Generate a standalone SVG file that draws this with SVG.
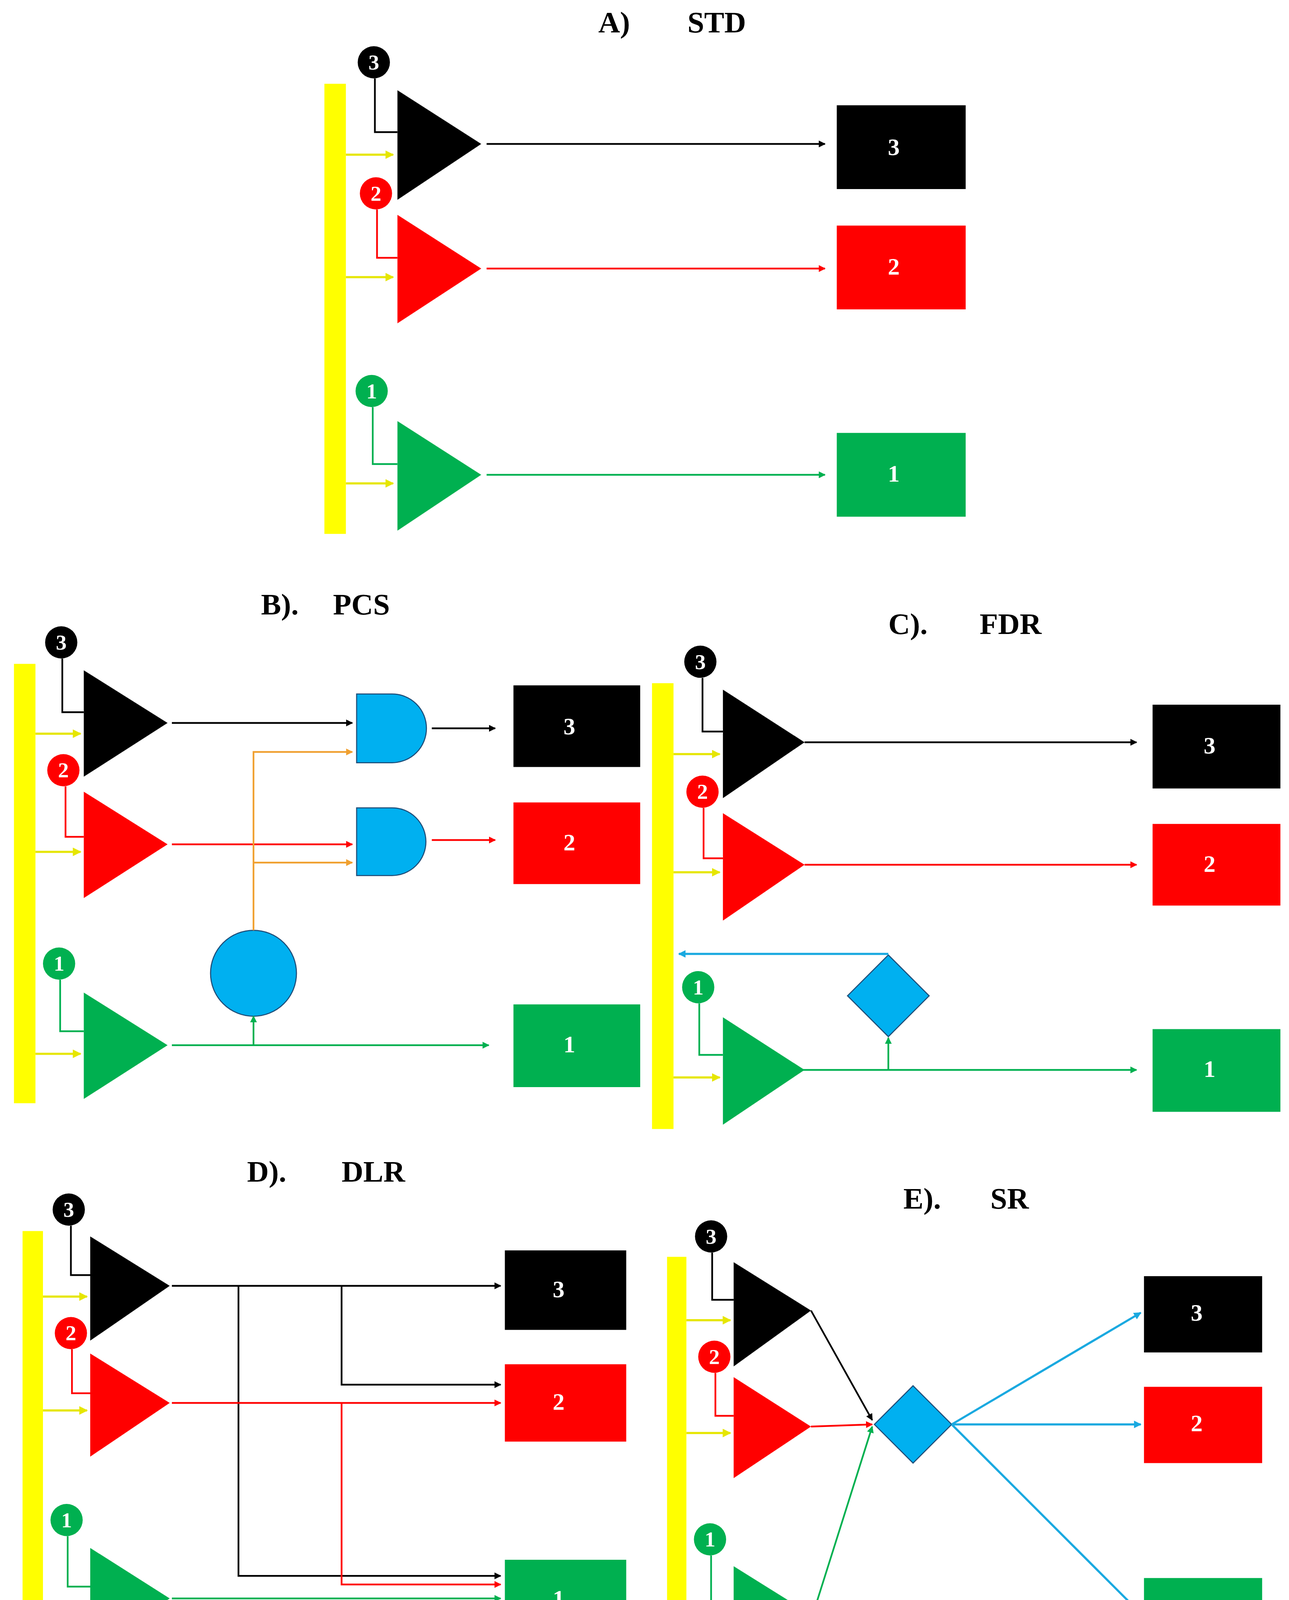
<svg xmlns="http://www.w3.org/2000/svg" width="3300" height="4310" viewBox="0 0 3300 4310">
<defs>
<style>
.t{font-family:"Liberation Serif",serif;font-weight:bold;font-size:28px;fill:#000}
.bn{font-family:"Liberation Serif",serif;font-weight:bold;font-size:20px;fill:#fff;text-anchor:middle;dominant-baseline:central}
.bx{font-family:"Liberation Serif",serif;font-weight:bold;font-size:22px;fill:#fff;text-anchor:middle;dominant-baseline:central}
.yb{fill:#ffff00}
.ya{stroke:#e6e600;stroke-width:2;fill:none;marker-end:url(#my)}
.k{stroke:#000;stroke-width:1.6;fill:none}
.r{stroke:#ff0000;stroke-width:1.6;fill:none}
.g{stroke:#00b050;stroke-width:1.6;fill:none}
.o{stroke:#f0a030;stroke-width:1.6;fill:none}
.b{stroke:#1aa9e0;stroke-width:2;fill:none}
.blue{fill:#00b0f0;stroke:#1f4e79;stroke-width:1}
</style>
<marker id="my" viewBox="0 0 10 10" refX="9" refY="5" markerWidth="4" markerHeight="4" orient="auto"><path d="M0,0L10,5L0,10Z" fill="#e6e600"/></marker>
<marker id="mk" viewBox="0 0 10 10" refX="9" refY="5" markerWidth="4" markerHeight="4" orient="auto"><path d="M0,0L10,5L0,10Z" fill="#000"/></marker>
<marker id="mr" viewBox="0 0 10 10" refX="9" refY="5" markerWidth="4" markerHeight="4" orient="auto"><path d="M0,0L10,5L0,10Z" fill="#f00"/></marker>
<marker id="mg" viewBox="0 0 10 10" refX="9" refY="5" markerWidth="4" markerHeight="4" orient="auto"><path d="M0,0L10,5L0,10Z" fill="#00b050"/></marker>
<marker id="mo" viewBox="0 0 10 10" refX="9" refY="5" markerWidth="4" markerHeight="4" orient="auto"><path d="M0,0L10,5L0,10Z" fill="#f0a030"/></marker>
<marker id="mb" viewBox="0 0 10 10" refX="9" refY="5" markerWidth="3.5" markerHeight="3.5" orient="auto"><path d="M0,0L10,5L0,10Z" fill="#1aa9e0"/></marker>
</defs>
<rect width="3300" height="4310" fill="#fff"/>
<g transform="scale(2.75)">
<!-- A -->
<g id="titleA"><text class="t" x="557" y="30">A)</text><text class="t" x="640" y="30">STD</text></g>
<g id="A-bar"><rect class="yb" x="302" y="78" width="20" height="419"/></g>
<g id="A-amp3"><polygon points="370,84 448,134 370,186" fill="#000"/><circle cx="348" cy="58" r="15" fill="#000"/><text class="bn" x="348" y="58">3</text></g>
<g id="A-amp2"><polygon points="370,200 448,250 370,301" fill="#f00"/><circle cx="350" cy="180" r="15" fill="#f00"/><text class="bn" x="350" y="180">2</text></g>
<g id="A-amp1"><polygon points="370,392 448,442 370,494" fill="#00b050"/><circle cx="346" cy="364" r="15" fill="#00b050"/><text class="bn" x="346" y="364">1</text></g>
<g id="A-box3"><rect x="779" y="98" width="120" height="78" fill="#000"/><text class="bx" x="832" y="137">3</text></g>
<g id="A-box2"><rect x="779" y="210" width="120" height="78" fill="#f00"/><text class="bx" x="832" y="248">2</text></g>
<g id="A-box1"><rect x="779" y="403" width="120" height="78" fill="#00b050"/><text class="bx" x="832" y="441">1</text></g>
<!-- B -->
<g id="titleB"><text class="t" x="243" y="572">B).</text><text class="t" x="310" y="572">PCS</text></g>
<g id="B-bar"><rect class="yb" x="13" y="618" width="20" height="409"/></g>
<g id="B-amp3"><polygon points="78,624 156,673 78,723" fill="#000"/><circle cx="57" cy="598" r="15" fill="#000"/><text class="bn" x="57" y="598">3</text></g>
<g id="B-amp2"><polygon points="78,737 156,786 78,836" fill="#f00"/><circle cx="59" cy="717" r="15" fill="#f00"/><text class="bn" x="59" y="717">2</text></g>
<g id="B-amp1"><polygon points="78,924 156,973 78,1023" fill="#00b050"/><circle cx="55" cy="897" r="15" fill="#00b050"/><text class="bn" x="55" y="897">1</text></g>
<g id="B-gate3"><path class="blue" d="M332,646H365A32,32 0 0 1 365,710H332Z"/></g>
<g id="B-gate2"><path class="blue" d="M332,752H365A31.5,31.5 0 0 1 365,815H332Z"/></g>
<g id="B-circle"><circle class="blue" cx="236" cy="906" r="40"/></g>
<g id="B-box3"><rect x="478" y="638" width="118" height="76" fill="#000"/><text class="bx" x="530" y="676">3</text></g>
<g id="B-box2"><rect x="478" y="747" width="118" height="76" fill="#f00"/><text class="bx" x="530" y="784">2</text></g>
<g id="B-box1"><rect x="478" y="935" width="118" height="77" fill="#00b050"/><text class="bx" x="530" y="972">1</text></g>
<!-- C -->
<g id="titleC"><text class="t" x="827" y="590">C).</text><text class="t" x="912" y="590">FDR</text></g>
<g id="C-bar"><rect class="yb" x="607" y="636" width="20" height="415"/></g>
<g id="C-amp3"><polygon points="673,642 749,691 673,743" fill="#000"/><circle cx="652" cy="616" r="15" fill="#000"/><text class="bn" x="652" y="616">3</text></g>
<g id="C-amp2"><polygon points="673,757 749,805 673,857" fill="#f00"/><circle cx="654" cy="737" r="15" fill="#f00"/><text class="bn" x="654" y="737">2</text></g>
<g id="C-amp1"><polygon points="673,947 749,996 673,1047" fill="#00b050"/><circle cx="650" cy="919" r="15" fill="#00b050"/><text class="bn" x="650" y="919">1</text></g>
<g id="C-diamond"><polygon class="blue" points="827,889 865,927 827,965 789,927"/></g>
<g id="C-box3"><rect x="1073" y="656" width="119" height="78" fill="#000"/><text class="bx" x="1126" y="694">3</text></g>
<g id="C-box2"><rect x="1073" y="767" width="119" height="76" fill="#f00"/><text class="bx" x="1126" y="804">2</text></g>
<g id="C-box1"><rect x="1073" y="958" width="119" height="77" fill="#00b050"/><text class="bx" x="1126" y="995">1</text></g>
<!-- D -->
<g id="titleD"><text class="t" x="230" y="1100">D).</text><text class="t" x="318" y="1100">DLR</text></g>
<g id="D-bar"><rect class="yb" x="21" y="1146" width="19" height="394"/></g>
<g id="D-amp3"><polygon points="84,1151 158,1197 84,1248" fill="#000"/><circle cx="64" cy="1126" r="15" fill="#000"/><text class="bn" x="64" y="1126">3</text></g>
<g id="D-amp2"><polygon points="84,1260 158,1306 84,1356" fill="#f00"/><circle cx="66" cy="1241" r="15" fill="#f00"/><text class="bn" x="66" y="1241">2</text></g>
<g id="D-amp1"><polygon points="84,1441 158,1488 84,1537" fill="#00b050"/><circle cx="62" cy="1415" r="15" fill="#00b050"/><text class="bn" x="62" y="1415">1</text></g>
<g id="D-box3"><rect x="470" y="1164" width="113" height="74" fill="#000"/><text class="bx" x="520" y="1200">3</text></g>
<g id="D-box2"><rect x="470" y="1270" width="113" height="72" fill="#f00"/><text class="bx" x="520" y="1305">2</text></g>
<g id="D-box1"><rect x="470" y="1452" width="113" height="73" fill="#00b050"/><text class="bx" x="520" y="1488">1</text></g>
<!-- E -->
<g id="titleE"><text class="t" x="841" y="1125">E).</text><text class="t" x="922" y="1125">SR</text></g>
<g id="E-bar"><rect class="yb" x="621" y="1170" width="18" height="385"/></g>
<g id="E-amp3"><polygon points="683,1175 755,1220 683,1272" fill="#000"/><circle cx="662" cy="1151" r="15" fill="#000"/><text class="bn" x="662" y="1151">3</text></g>
<g id="E-amp2"><polygon points="683,1282 755,1328 683,1376" fill="#f00"/><circle cx="665" cy="1263" r="15" fill="#f00"/><text class="bn" x="665" y="1263">2</text></g>
<g id="E-amp1"><polygon points="683,1458 755,1503 683,1552" fill="#00b050"/><circle cx="661" cy="1433" r="15" fill="#00b050"/><text class="bn" x="661" y="1433">1</text></g>
<g id="E-diamond"><polygon class="blue" points="850,1290 886,1326 850,1362 814,1326"/></g>
<g id="E-box3"><rect x="1065" y="1188" width="110" height="71" fill="#000"/><text class="bx" x="1114" y="1222">3</text></g>
<g id="E-box2"><rect x="1065" y="1291" width="110" height="71" fill="#f00"/><text class="bx" x="1114" y="1325">2</text></g>
<g id="E-box1"><rect x="1065" y="1469" width="110" height="71" fill="#00b050"/><text class="bx" x="1114" y="1503">1</text></g>

<g id="connectors">
<!-- A -->
<path class="k" d="M349,73V123H370"/><path class="r" d="M351,195V240H370"/><path class="g" d="M347,379V432H370"/>
<path class="ya" d="M322,144H366"/><path class="ya" d="M322,258H366"/><path class="ya" d="M322,450H366"/>
<path class="k" d="M453,134H768" marker-end="url(#mk)"/><path class="r" d="M453,250H768" marker-end="url(#mr)"/><path class="g" d="M453,442H768" marker-end="url(#mg)"/>
<!-- B -->
<path class="k" d="M58,613V663H78"/><path class="r" d="M61,732V779H78"/><path class="g" d="M56,912V960H78"/>
<path class="ya" d="M33,683H75"/><path class="ya" d="M33,793H75"/><path class="ya" d="M33,981H75"/>
<path class="k" d="M160,673H328" marker-end="url(#mk)"/><path class="r" d="M160,786H328" marker-end="url(#mr)"/><path class="g" d="M160,973H455" marker-end="url(#mg)"/>
<path class="g" d="M236,973V946" marker-end="url(#mg)"/>
<path class="o" d="M236,866V700H328" marker-end="url(#mo)"/><path class="o" d="M236,803H328" marker-end="url(#mo)"/>
<path class="k" d="M402,678H461" marker-end="url(#mk)"/><path class="r" d="M402,782H461" marker-end="url(#mr)"/>
<!-- C -->
<path class="k" d="M654,631V681H673"/><path class="r" d="M655,752V799H673"/><path class="g" d="M651,934V982H673"/>
<path class="ya" d="M627,702H670"/><path class="ya" d="M627,812H670"/><path class="ya" d="M627,1003H670"/>
<path class="k" d="M749,691H1058" marker-end="url(#mk)"/><path class="r" d="M749,805H1058" marker-end="url(#mr)"/><path class="g" d="M737,996H1058" marker-end="url(#mg)"/>
<path class="g" d="M827,996V966" marker-end="url(#mg)"/>
<path class="b" d="M827,888H632" marker-end="url(#mb)"/>
<!-- D -->
<path class="k" d="M66,1141V1187H84"/><path class="r" d="M67,1256V1297H84"/><path class="g" d="M63,1430V1477H84"/>
<path class="ya" d="M40,1207H81"/><path class="ya" d="M40,1313H81"/><path class="ya" d="M40,1495H81"/>
<path class="k" d="M160,1197H466" marker-end="url(#mk)"/><path class="k" d="M222,1197V1467H466" marker-end="url(#mk)"/><path class="k" d="M318,1197V1289H466" marker-end="url(#mk)"/>
<path class="r" d="M160,1306H466" marker-end="url(#mr)"/><path class="r" d="M318,1306V1475H466" marker-end="url(#mr)"/>
<path class="g" d="M160,1488H466" marker-end="url(#mg)"/>
<!-- E -->
<path class="k" d="M663,1166V1210H683"/><path class="r" d="M666,1278V1318H683"/><path class="g" d="M662,1448V1493H683"/>
<path class="ya" d="M639,1229H680"/><path class="ya" d="M639,1334H680"/><path class="ya" d="M639,1512H680"/>
<path class="k" d="M755,1220L812,1322" marker-end="url(#mk)"/><path class="r" d="M755,1328L812,1326" marker-end="url(#mr)"/><path class="g" d="M757,1502L812,1328" marker-end="url(#mg)"/>
<path class="b" d="M886,1326L1062,1222" marker-end="url(#mb)"/><path class="b" d="M886,1326H1062" marker-end="url(#mb)"/><path class="b" d="M886,1326L1062,1502" marker-end="url(#mb)"/>
</g>
</g>
</svg>
